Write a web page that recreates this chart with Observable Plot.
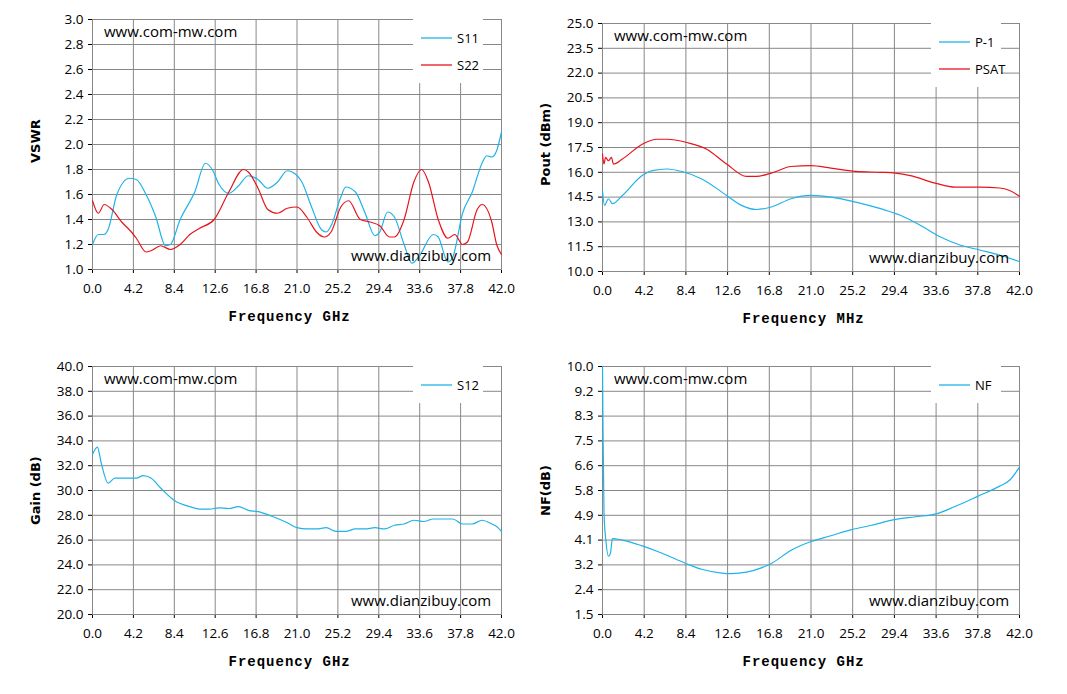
<!DOCTYPE html>
<html><head><meta charset="utf-8">
<script src="https://cdn.jsdelivr.net/npm/d3@7"></script>
<script src="https://cdn.jsdelivr.net/npm/@observablehq/plot@0.6"></script>
<style>
body{margin:0;background:#fff;font-family:"Open Sans",sans-serif;}
#wrap{position:relative;width:1067px;height:694px;}
.p{position:absolute;}
.wm{position:absolute;font:15px "Open Sans",sans-serif;color:#000;white-space:nowrap;}
.lg{position:absolute;background:#fff;font:13px "Open Sans",sans-serif;}
.lg div{position:absolute;white-space:nowrap;}
.lg svg{position:absolute;}
.xl{position:absolute;font:bold 14px "Liberation Mono",monospace;white-space:nowrap;letter-spacing:1px;}
.yl{position:absolute;font:bold 13px "DejaVu Sans",sans-serif;white-space:nowrap;transform:rotate(-90deg);transform-origin:left top;}
</style></head><body><div id="wrap"></div>
<script>
const xTicks=[0,4.2,8.4,12.6,16.8,21,25.2,29.4,33.6,37.8,42];
const s11F=[0,0.6,1.2,1.6,2.5,3.8,4.5,5.5,6.5,7.5,8,9,10.5,11.6,12.3,13,14,15,16,17,18,19,20,20.5,21.5,22.5,23.5,24,24.5,25.5,26,27,28,29,29.5,30.3,31,32,32.8,33.5,35,35.5,36.5,37,38,39,40,40.5,41,41.5,42];
const s11V=[1.2,1.28,1.28,1.32,1.6,1.73,1.72,1.6,1.42,1.19,1.2,1.4,1.62,1.85,1.8,1.68,1.61,1.67,1.75,1.72,1.65,1.7,1.79,1.78,1.7,1.5,1.32,1.3,1.35,1.58,1.66,1.62,1.45,1.27,1.3,1.46,1.42,1.2,1.05,1.1,1.28,1.26,1.06,1.1,1.45,1.62,1.85,1.91,1.9,1.95,2.1];
const s22F=[0,0.6,1.2,2,3,4,4.5,5.5,6,7,8,9,10,11,12.5,14,15.5,16,17,18,19,20,21,22,23,23.8,24.5,25.5,26.3,27.5,28.5,29.5,30.5,31,32,33,33.8,34.5,35.5,36.5,37.2,38,38.5,39.5,40,41,41.5,42];
const s22V=[1.55,1.45,1.52,1.48,1.38,1.3,1.25,1.14,1.15,1.19,1.16,1.2,1.28,1.33,1.4,1.62,1.8,1.78,1.65,1.48,1.45,1.49,1.5,1.42,1.3,1.26,1.3,1.5,1.55,1.4,1.38,1.35,1.26,1.26,1.4,1.7,1.8,1.7,1.4,1.25,1.28,1.2,1.22,1.48,1.52,1.38,1.2,1.12];
const p1F=[0,0.2,0.6,1,2,4,5,6.5,8,10,12.5,14,15.5,17,19,21,23,25.5,28,30,32,34,36,38,40,42];
const p1V=[14.9,14.0,14.4,14.1,14.6,15.8,16.1,16.2,16.05,15.6,14.6,14.0,13.75,13.9,14.4,14.6,14.5,14.2,13.8,13.4,12.8,12.1,11.6,11.3,11.0,10.6];
const psatF=[0,0.15,0.3,0.6,0.9,1.1,2,4,5.5,6.5,8.5,10.5,12.5,14.5,15.5,17,19,21,23,25.5,28,29.5,31,33.5,35.5,38,40,41,42];
const psatV=[17.1,16.5,16.9,16.7,16.9,16.5,16.8,17.7,18.0,18.0,17.8,17.4,16.5,15.75,15.75,15.95,16.35,16.4,16.25,16.05,16.0,15.95,15.8,15.35,15.1,15.1,15.05,14.9,14.55];
const s12F=[0,0.5,0.9,1.6,2.3,3.5,4.5,5.2,6,7,8.4,10,11,12,13,14,15,16,17,18.5,20,21,22,23,24,25,26,27,28,29,30,31,32,33,34,35,36,37,38,39,40,41,41.5,42];
const s12V=[32.9,33.5,32.2,30.6,31.0,31.0,31.0,31.2,31.0,30.2,29.2,28.7,28.5,28.5,28.6,28.55,28.7,28.4,28.3,27.9,27.4,27.0,26.9,26.9,27.0,26.7,26.7,26.9,26.9,27.0,26.9,27.2,27.3,27.6,27.5,27.7,27.7,27.7,27.3,27.3,27.6,27.3,27.1,26.7];
const nfF=[0,0.05,0.15,0.35,0.6,0.8,1.0,2,4,6,8.4,10,12,13,14.5,16,17,19,21,23,25,27,29.4,31.5,33.6,35.5,37.8,40,41,42];
const nfV=[10.0,8.0,5.0,4.0,3.5,3.6,4.1,4.05,3.85,3.6,3.25,3.05,2.92,2.9,2.95,3.1,3.25,3.7,4.0,4.2,4.4,4.55,4.75,4.85,4.95,5.2,5.55,5.9,6.1,6.55];
const nfTicks=[1.5,2.35,3.2,4.05,4.9,5.75,6.6,7.45,8.3,9.15,10];
const nfLabels=["1.5","2.4","3.2","4.1","4.9","5.8","6.6","7.5","8.3","9.2","10.0"];
const BLUE="#1fb3e8", RED="#e8141c";
const wrap=document.getElementById("wrap");
function add(el,css,cls,html){const d=document.createElement("div");d.className=cls;d.style.cssText=css;if(html!==undefined)d.innerHTML=html;wrap.appendChild(d);return d;}
function panel(o){
  const L=o.l,T=o.t,W=o.w,H=o.h;
  const series=o.series.map(s=>s.f.map((f,i)=>({f,v:s.v[i]})));
  const svg=Plot.plot({width:W+L+40,height:H+T+30,marginLeft:L,marginRight:40,marginTop:T,marginBottom:30,
    style:{fontFamily:"Open Sans",fontSize:"13.5px",color:"#000"},
    x:{domain:[0,42],ticks:xTicks,tickFormat:d=>d.toFixed(1),tickSize:4,tickPadding:10,label:null},
    y:{domain:o.yd,ticks:o.yt,tickFormat:o.yf,tickSize:4,tickPadding:5,label:null},
    marks:[
      Plot.gridX(xTicks,{stroke:"#888",strokeOpacity:1}),
      Plot.gridY(o.yt,{stroke:"#888",strokeOpacity:1}),
      Plot.frame({stroke:"#888"}),
      ...series.map((d,i)=>Plot.line(d,{x:"f",y:"v",stroke:o.series[i].c,strokeWidth:1.2,curve:"monotone-x"}))
    ]});
  const d=add(null,`left:${o.x}px;top:${o.y}px`,"p");d.appendChild(svg);
}
function texts(o){
  add(null,`left:${o.x+o.l+12}px;top:${o.y+o.t+2}px`,"wm","www.com-mw.com");
  add(null,`left:${o.x+o.l+o.w-150}px;top:${o.y+o.t+o.h-24}px`,"wm","www.dianzibuy.com");
  const lg=add(null,`left:${o.x+o.l+o.w-88}px;top:${o.y+o.t}px;width:70px;height:${o.series.length*27+10}px`,"lg");
  o.series.forEach((s,i)=>{
    const w=document.createElement("div");w.style.cssText=`left:8px;top:${14+i*27}px`;
    w.innerHTML=`<svg width="32" height="10"><line x1="0" x2="31" y1="5" y2="5" stroke="${s.c}" stroke-width="1.3"/></svg>`;lg.appendChild(w);
    const t=document.createElement("div");t.style.cssText=`left:44px;top:${10+i*27}px`;t.textContent=s.n;lg.appendChild(t);
  });
  add(null,`left:${o.x+o.l+o.w/2-68}px;top:${o.y+o.t+o.h+40}px`,"xl",o.xl);
  add(null,`left:${o.x+28}px;top:${o.y+o.t+o.h/2+o.ylw/2}px`,"yl",o.yl);
}
const f1=d=>d.toFixed(1);
const panels=[
 {x:0,y:0,l:92,t:19,w:409,h:250,yd:[1,3],yt:d3.range(1,3.01,0.2).map(v=>+v.toFixed(1)),yf:f1,xl:"Frequency GHz",yl:"VSWR",ylw:38,
  series:[{f:s11F,v:s11V,c:BLUE,n:"S11"},{f:s22F,v:s22V,c:RED,n:"S22"}]},
 {x:510,y:0,l:92,t:23,w:417,h:248,yd:[10,25],yt:d3.range(10,25.01,1.5).map(v=>+v.toFixed(1)),yf:f1,xl:"Frequency MHz",yl:"Pout (dBm)",ylw:78,
  series:[{f:p1F,v:p1V,c:BLUE,n:"P-1"},{f:psatF,v:psatV,c:RED,n:"PSAT"}]},
 {x:0,y:347,l:92,t:19,w:409,h:248,yd:[20,40],yt:d3.range(20,40.01,2),yf:f1,xl:"Frequency GHz",yl:"Gain (dB)",ylw:70,
  series:[{f:s12F,v:s12V,c:BLUE,n:"S12"}]},
 {x:510,y:347,l:92,t:19,w:417,h:248,yd:[1.5,10],yt:nfTicks,yf:d=>nfLabels[nfTicks.indexOf(d)],xl:"Frequency GHz",yl:"NF(dB)",ylw:52,
  series:[{f:nfF,v:nfV,c:BLUE,n:"NF"}]}
];
panels.forEach(o=>{panel(o);texts(o);});
</script></body></html>
